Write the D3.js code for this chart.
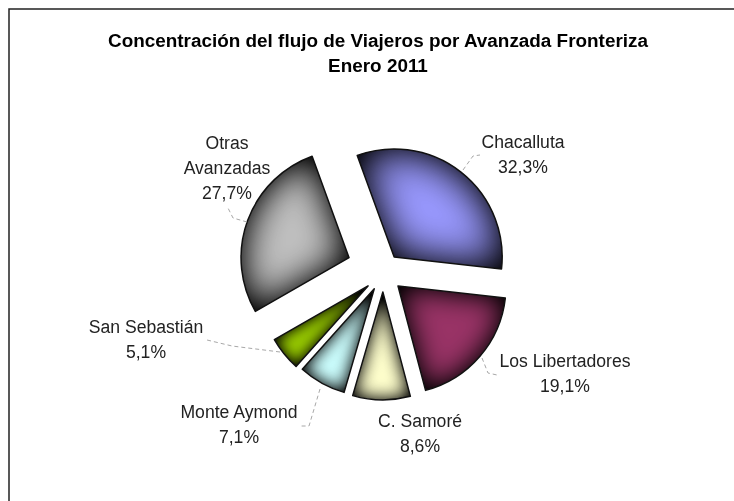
<!DOCTYPE html>
<html><head><meta charset="utf-8">
<script src="https://cdn.jsdelivr.net/npm/d3@7"></script>
<style>html,body{margin:0;padding:0;background:#fff}svg{display:block;filter:blur(0.35px)}</style>
</head><body><div id="chart"></div>
<script>
const titleLines = ["Concentración del flujo de Viajeros por Avanzada Fronteriza", "Enero 2011"];
const categories = ["Chacalluta", "Los Libertadores", "C. Samoré", "Monte Aymond", "San Sebastián", "Otras Avanzadas"];
const values = [32.3, 19.1, 8.6, 7.1, 5.1, 27.7];
const colors = ["#9999ff", "#993366", "#ffffcc", "#ccffff", "#99cc00", "#c0c0c0"];
const explode = [20, 22, 20, 18, 19, 35];

const W = 734, H = 501;
const cx = 381, cy = 272, R = 108;
const labelLayout = [
  {x: 523, y: 148, lines: ["Chacalluta", "32,3%"]},
  {x: 565, y: 367, lines: ["Los Libertadores", "19,1%"]},
  {x: 420, y: 427, lines: ["C. Samoré", "8,6%"]},
  {x: 239, y: 418, lines: ["Monte Aymond", "7,1%"]},
  {x: 146, y: 333, lines: ["San Sebastián", "5,1%"]},
  {x: 227, y: 149, lines: ["Otras", "Avanzadas", "27,7%"]}
];
const leaders = [
  [[463,170],[473,156],[480,155]],
  [[482,358],[488,373],[497,375]],
  [],
  [[320,389],[309,426],[300,426]],
  [[280,352],[232,346],[207,340]],
  [[247,222],[233,218],[228,208]]
];

const svg = d3.select("#chart").append("svg").attr("width", W).attr("height", H);
svg.append("rect").attr("width", W).attr("height", H).attr("fill", "#fff");
svg.append("path").attr("d", d3.line()([[9,H],[9,9],[W,9]])).attr("fill","none").attr("stroke","#222").attr("stroke-width",1.5);

svg.selectAll("text.title").data(titleLines).join("text").attr("class","title")
  .attr("x", 378).attr("y", (d,i)=>47+i*25).attr("text-anchor","middle")
  .attr("font-family","'Liberation Sans',Arial,sans-serif").attr("font-weight","bold").attr("font-size",18.9).attr("fill","#000").text(d=>d);

const pie = d3.pie().sort(null).value(d=>d).startAngle(-20*Math.PI/180).endAngle(340*Math.PI/180);
const arcs = pie(values);
const arc = d3.arc().innerRadius(0).outerRadius(R);
const defs = svg.append("defs");
arcs.forEach((a,i)=>{
  const f = defs.append("filter").attr("id","pillow"+i).attr("x","-40%").attr("y","-40%").attr("width","180%").attr("height","180%")
    .attr("color-interpolation-filters","sRGB");
  f.append("feGaussianBlur").attr("in","SourceAlpha").attr("stdDeviation",5+0.5*values[i]).attr("result","b");
  f.append("feColorMatrix").attr("in","b").attr("type","matrix").attr("values","0 0 0 1 0 0 0 0 1 0 0 0 0 1 0 0 0 0 0 1").attr("result","g0");
  const t = f.append("feComponentTransfer").attr("in","g0").attr("result","g");
  ["feFuncR","feFuncG","feFuncB"].forEach(n=>t.append(n).attr("type","linear").attr("slope",1.2).attr("intercept",-0.2));
  f.append("feBlend").attr("in","SourceGraphic").attr("in2","g").attr("mode","multiply").attr("result","m");
  f.append("feComposite").attr("in","m").attr("in2","SourceAlpha").attr("operator","in");
});
const slices = svg.selectAll("g.slice").data(arcs).join("g").attr("class","slice")
  .attr("transform",(d,i)=>{const m=(d.startAngle+d.endAngle)/2;
    const tilt=[3,-1.5,-6,-7,-8,4][i]*Math.PI/180;
    return `translate(${cx+explode[i]*Math.sin(m+tilt)},${cy-explode[i]*Math.cos(m+tilt)})`;});
slices.append("path").attr("d",arc).attr("fill",(d,i)=>colors[i]).attr("filter",(d,i)=>`url(#pillow${i})`);
slices.append("path").attr("d",arc).attr("fill","none").attr("stroke","#111").attr("stroke-width",1.5).attr("stroke-linejoin","round");

svg.selectAll("path.leader").data(leaders.filter(l=>l.length)).join("path").attr("class","leader")
  .attr("d",d3.line()).attr("fill","none").attr("stroke","#a8a8a8").attr("stroke-width",1).attr("stroke-dasharray","4 3");

labelLayout.forEach(l=>{
  l.lines.forEach((s,j)=>svg.append("text").attr("x",l.x).attr("y",l.y+j*25).attr("text-anchor","middle")
    .attr("font-family","'Liberation Sans',Arial,sans-serif").attr("font-size",17.6).attr("fill","#222").text(s));
});
</script></body></html>
